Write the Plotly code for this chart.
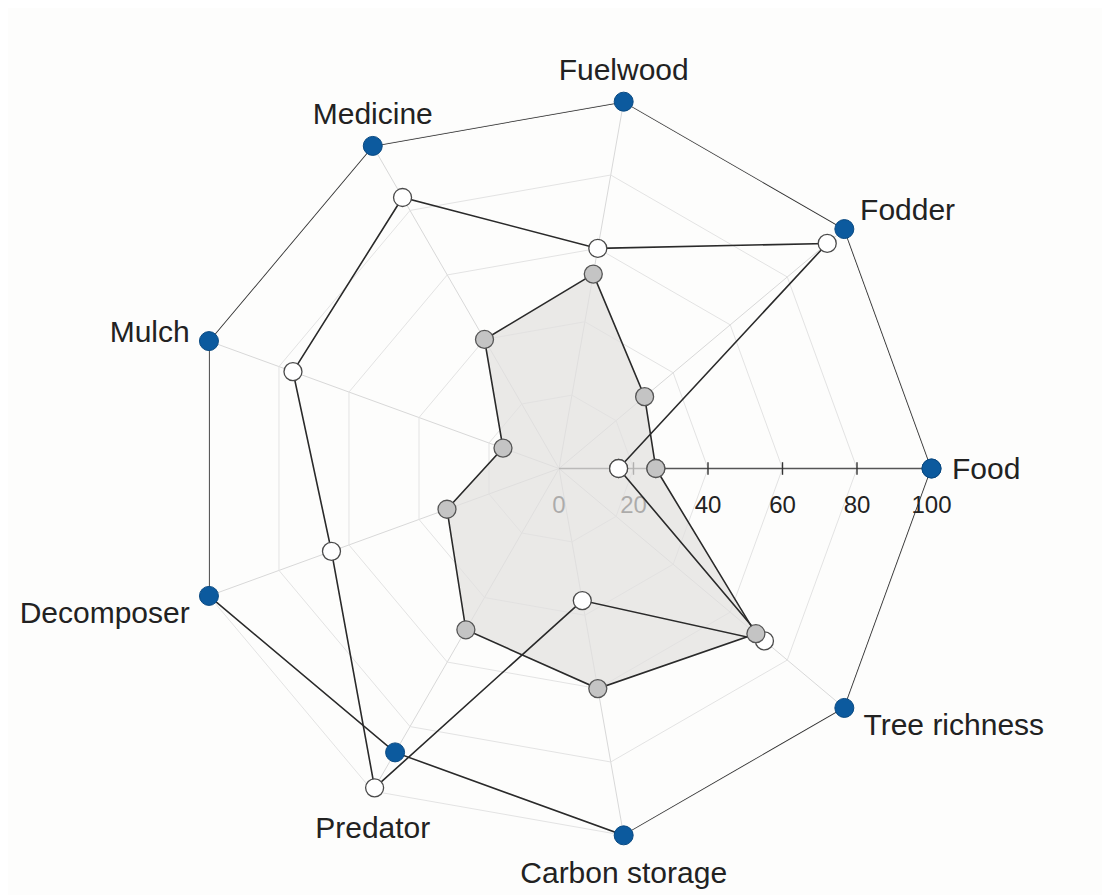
import plotly.graph_objects as go

categories = ["Food", "Fodder", "Fuelwood", "Medicine", "Mulch",
              "Decomposer", "Predator", "Carbon storage", "Tree richness"]
blue_values = [100, 100, 100, 100, 100, 100, 88, 100, 100]
white_values = [16, 94, 60, 84, 76, 65, 99, 36, 72]
grey_values = [26, 30, 53, 40, 16, 32, 50, 60, 69]
radial_ticks = [0, 20, 40, 60, 80, 100]
radial_ticktext = ["0", "20", "40", "60", "80", "100"]

# labels drawn by the angular axis itself (left/right ones)
axis_label_cats = ["Food", "Fodder", "Mulch", "Decomposer"]
# other labels: (text position, offset marker size)
label_pos = {"Fuelwood": ("top center", 21),
             "Medicine": ("top center", 21),
             "Predator": ("bottom center", 38),
             "Carbon storage": ("bottom center", 38),
             "Tree richness": ("middle right", 29)}

def closed(v):
    return list(v) + [v[0]]

cats_c = closed(categories)
line_col = "#2a2a2a"
grid_col = "#e3e3e3"
bg = "#fdfdfc"
r_max = radial_ticks[-1]
font_fam = "Arial, Liberation Sans, sans-serif"

fig = go.Figure()

# radial tick marks on the Food spoke
fig.add_trace(go.Scatterpolar(
    r=radial_ticks[1:], theta=[categories[0]] * (len(radial_ticks) - 1),
    mode="markers",
    marker=dict(symbol="line-ns", size=9, color="#333333",
                line=dict(color="#333333", width=1.4)),
    hoverinfo="skip", showlegend=False))

# grey shaded area (fill only)
fig.add_trace(go.Scatterpolar(
    r=closed(grey_values), theta=cats_c, mode="lines",
    fill="toself", fillcolor="rgba(226,224,223,0.72)",
    line=dict(color="rgba(0,0,0,0)", width=0),
    hoverinfo="skip", showlegend=False))

# white series
fig.add_trace(go.Scatterpolar(
    r=closed(white_values), theta=cats_c, mode="lines+markers",
    line=dict(color=line_col, width=1.6),
    marker=dict(size=18, color="#ffffff", line=dict(color="#4a4a4a", width=1.3)),
    showlegend=False))

# grey series
fig.add_trace(go.Scatterpolar(
    r=closed(grey_values), theta=cats_c, mode="lines+markers",
    line=dict(color=line_col, width=1.6),
    marker=dict(size=18, color="#c4c4c4", line=dict(color="#555555", width=1.3)),
    showlegend=False))

# blue series
fig.add_trace(go.Scatterpolar(
    r=closed(blue_values), theta=cats_c, mode="lines+markers",
    line=dict(color=line_col, width=1.6),
    marker=dict(size=19, color="#0c5a9e", line=dict(color="#0a4a82", width=1)),
    showlegend=False))

# remaining category labels placed around their spoke ends
lab_cats = list(label_pos.keys())
lab_text = [("<br>" + c) if label_pos[c][0] == "middle right" else c
            for c in lab_cats]
fig.add_trace(go.Scatterpolar(
    r=[r_max] * len(lab_cats), theta=lab_cats, mode="markers+text",
    text=lab_text, textposition=[label_pos[c][0] for c in lab_cats],
    textfont=dict(size=30, color="#222222", family=font_fam),
    marker=dict(size=[label_pos[c][1] for c in lab_cats],
                color="rgba(0,0,0,0)", line=dict(width=0)),
    cliponaxis=False, hoverinfo="skip", showlegend=False))

fig.update_layout(
    width=1110, height=895,
    paper_bgcolor=bg, plot_bgcolor=bg,
    margin=dict(l=100, r=108, t=88, b=62),
    font=dict(family=font_fam, color="#222222"),
    polar=dict(
        bgcolor=bg,
        gridshape="linear",
        radialaxis=dict(
            range=[0, r_max], angle=0, tickangle=0,
            tickvals=radial_ticks, ticktext=radial_ticktext,
            showline=True, linecolor="#555555", linewidth=1.4,
            ticks="outside", ticklen=15, tickcolor="rgba(0,0,0,0)",
            gridcolor=grid_col, gridwidth=1,
            tickfont=dict(size=24, color="#222222"),
            layer="below traces"),
        angularaxis=dict(
            categoryarray=categories, categoryorder="array",
            tickvals=categories,
            ticktext=[c if c in axis_label_cats else "" for c in categories],
            rotation=0, direction="counterclockwise",
            showline=True, linecolor=grid_col, linewidth=1,
            gridcolor="#d8d8d8", gridwidth=1,
            ticks="outside", ticklen=14, tickcolor="rgba(0,0,0,0)",
            tickfont=dict(size=30, color="#222222"),
            layer="below traces"),
    ),
)

fig.write_html("out.html")
